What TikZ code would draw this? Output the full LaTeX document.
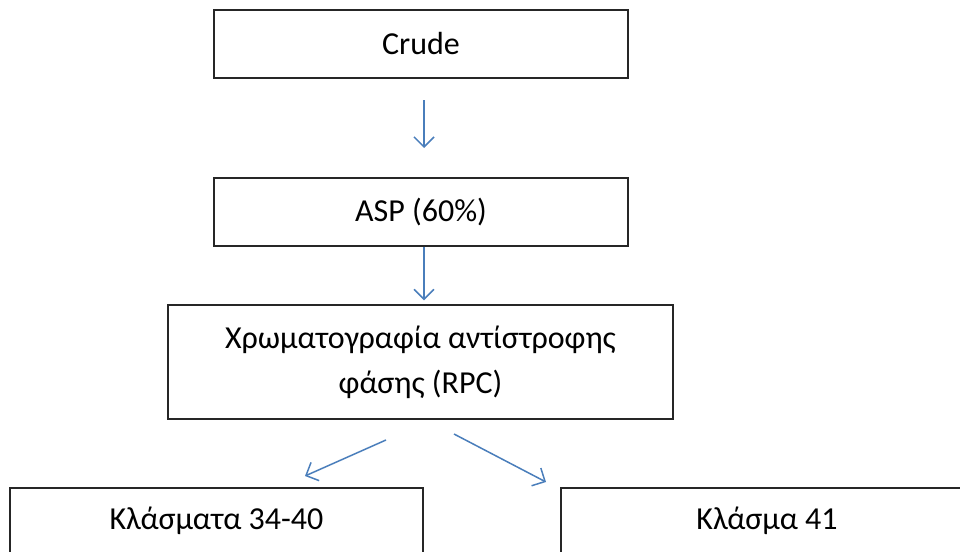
\documentclass[tikz,border=0pt]{standalone}
\usepackage{fontspec}
\setmainfont{Carlito}
\usetikzlibrary{arrows.meta}
\definecolor{arrowblue}{RGB}{74,126,187}
\tikzset{
  box/.style={draw=black!85, line width=1.3pt, fill=white, inner sep=0pt,
    align=center, font=\fontsize{32}{45}\selectfont},
  flow/.style={draw=arrowblue, line width=1.5pt,
    -{Straight Barb[length=10pt, width=20pt, line width=1.5pt]}}
}
\begin{document}
\begin{tikzpicture}[x=1pt,y=-1pt]
\useasboundingbox (0,0) rectangle (960,551);
\begin{scope}
\clip (0,0) rectangle (960,551);
\node[box, minimum width=414pt, minimum height=68pt] (crude) at (421,44) {Crude};
\node[box, minimum width=414pt, minimum height=68pt] (asp) at (421,212) {ASP (60\%)};
\node[box, minimum width=505pt, minimum height=114pt] (rpc) at (420.5,362)
  {Χρωματογραφία αντίστροφης\\φάσης (RPC)};
\node[box, minimum width=413pt, minimum height=66pt] (f1) at (216.5,521) {Κλάσματα 34-40};
\node[box, minimum width=412pt, minimum height=66pt] (f2) at (767,521) {Κλάσμα 41};
\end{scope}
\coordinate (a1s) at (424,100);
\coordinate (a1e) at (424,148);
\coordinate (a3s) at (386,440);
\coordinate (a3e) at (305,476);
\coordinate (a4s) at (454,434);
\coordinate (a4e) at (546,482);
\draw[flow] (a1s) -- (a1e);
\draw[flow] (asp.south -| a1s) -- ([yshift=4pt]rpc.north -| a1s);
\draw[flow] (a3s) -- (a3e);
\draw[flow] (a4s) -- (a4e);
\end{tikzpicture}
\end{document}
